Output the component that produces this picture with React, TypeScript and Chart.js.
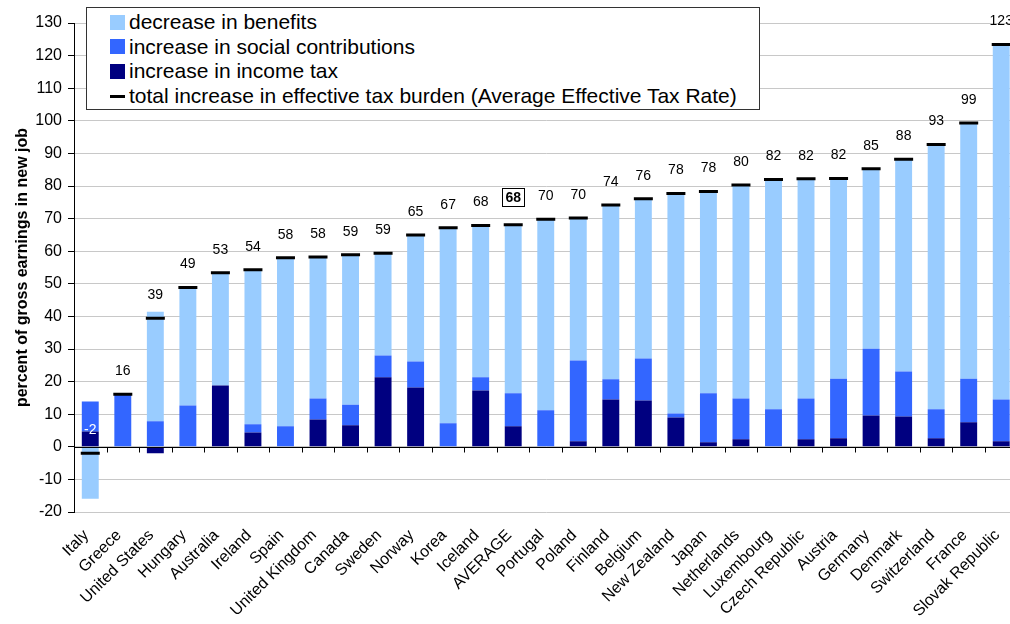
import React, { useEffect, useRef } from "react";
import { Chart, registerables } from "chart.js";

Chart.register(...registerables);

const categories = [
  "Italy", "Greece", "United States", "Hungary", "Australia", "Ireland", "Spain",
  "United Kingdom", "Canada", "Sweden", "Norway", "Korea", "Iceland", "AVERAGE",
  "Portugal", "Poland", "Finland", "Belgium", "New Zealand", "Japan", "Netherlands",
  "Luxembourg", "Czech Republic", "Austria", "Germany", "Denmark", "Switzerland",
  "France", "Slovak Republic",
];

const incomeTax = [
  4.7, 0, -2.0, 0, 18.8, 4.4, 0, 8.4, 6.6, 21.3, 18.2, 0, 17.3, 6.3, 0, 1.7,
  14.5, 14.2, 9.0, 1.4, 2.3, 0, 2.3, 2.6, 9.6, 9.3, 2.6, 7.5, 1.7,
];

const socialContributions = [
  9.2, 16.1, 7.8, 12.7, 0, 2.5, 6.3, 6.4, 6.3, 6.7, 8.0, 7.2, 4.0, 10.1, 11.2,
  24.8, 6.2, 12.9, 1.2, 15.0, 12.5, 11.5, 12.5, 18.3, 20.5, 13.8, 8.9, 13.4, 12.8,
];

const benefitsDecrease = [
  -15.9, 0, 33.6, 36.2, 34.6, 47.4, 51.7, 43.4, 46.0, 31.4, 38.8, 60.0, 46.6,
  51.7, 58.6, 43.7, 53.5, 49.0, 67.5, 61.9, 65.5, 70.5, 67.4, 61.4, 55.2, 65.1,
  81.2, 78.4, 108.9,
];

const totalBurden = [
  -2.0, 16.1, 39.4, 48.9, 53.4, 54.3, 58.0, 58.2, 58.9, 59.4, 65.0, 67.2, 67.9,
  68.1, 69.8, 70.2, 74.2, 76.1, 77.7, 78.3, 80.3, 82.0, 82.2, 82.3, 85.3, 88.2,
  92.7, 99.3, 123.4,
];

const legendLabels = [
  "decrease in benefits",
  "increase in social contributions",
  "increase in income tax",
  "total increase in effective tax burden (Average Effective Tax Rate)",
];

const yAxisTitle = "percent of gross earnings in new job";
const highlightCategory = "AVERAGE";

const COLOR_BENEFITS = "#99CCFF";
const COLOR_SOCIAL = "#3366FF";
const COLOR_INCOME = "#000080";
const FONT = '"Liberation Sans", Arial, sans-serif';

export default function App() {
  const canvasRef = useRef<HTMLCanvasElement | null>(null);

  useEffect(() => {
    if (!canvasRef.current) return;

    const overlayPlugin = {
      id: "overlay",
      afterDatasetsDraw(chart: any) {
        const { ctx, chartArea } = chart;
        const x = chart.scales.x;
        const y = chart.scales.y;
        const y0 = Math.round(y.getPixelForValue(0)) + 0.5;
        ctx.save();
        ctx.strokeStyle = "#000";
        ctx.lineWidth = 1.2;
        ctx.beginPath();
        ctx.moveTo(chartArea.left, y0);
        ctx.lineTo(chartArea.right, y0);
        ctx.stroke();
        const step = x.getPixelForValue(1) - x.getPixelForValue(0);
        ctx.lineWidth = 1;
        for (let i = 0; i <= categories.length; i++) {
          const px = Math.round(x.getPixelForValue(0) - step / 2 + i * step) + 0.5;
          ctx.beginPath();
          ctx.moveTo(px, y0);
          ctx.lineTo(px, y0 + 5);
          ctx.stroke();
        }
        ctx.textAlign = "center";
        ctx.textBaseline = "middle";
        totalBurden.forEach((v, i) => {
          const px = x.getPixelForValue(i);
          const py = y.getPixelForValue(v);
          const text = String(Math.round(v));
          if (categories[i] === highlightCategory) {
            ctx.font = `bold 14px ${FONT}`;
            const cy = py - 28;
            ctx.fillStyle = "#fff";
            ctx.fillRect(px - 11, cy - 9, 22, 18);
            ctx.strokeStyle = "#000";
            ctx.lineWidth = 1;
            ctx.strokeRect(Math.round(px - 11) + 0.5, Math.round(cy - 9) + 0.5, 22, 18);
            ctx.fillStyle = "#000";
            ctx.fillText(text, px, cy + 1);
          } else {
            ctx.font = `14px ${FONT}`;
            ctx.fillStyle = v < 0 ? "#fff" : "#000";
            ctx.fillText(text, px, py - 23);
          }
        });
        ctx.restore();
      },
    };

    const chart = new Chart(canvasRef.current, {
      type: "bar",
      data: {
        labels: categories,
        datasets: [
          {
            type: "line" as const,
            label: legendLabels[3],
            data: totalBurden,
            showLine: false,
            pointStyle: "line",
            pointRadius: 9.5,
            pointHoverRadius: 9.5,
            pointBorderWidth: 3,
            borderColor: "#000",
            backgroundColor: "#000",
            stack: "total",
            order: 0,
          } as any,
          {
            label: legendLabels[2],
            data: incomeTax,
            backgroundColor: COLOR_INCOME,
            stack: "s",
            order: 1,
            barPercentage: 0.52,
            categoryPercentage: 1,
          },
          {
            label: legendLabels[1],
            data: socialContributions,
            backgroundColor: COLOR_SOCIAL,
            stack: "s",
            order: 1,
            barPercentage: 0.52,
            categoryPercentage: 1,
          },
          {
            label: legendLabels[0],
            data: benefitsDecrease,
            backgroundColor: COLOR_BENEFITS,
            stack: "s",
            order: 1,
            barPercentage: 0.52,
            categoryPercentage: 1,
          },
        ],
      },
      options: {
        responsive: false,
        animation: false,
        devicePixelRatio: 1,
        layout: { padding: { top: 23, right: 11.5, left: 0, bottom: 0 } },
        plugins: {
          legend: { display: false },
          tooltip: { enabled: false },
        },
        scales: {
          x: {
            stacked: true,
            grid: { display: false, drawTicks: false },
            border: { display: false },
            ticks: {
              autoSkip: false,
              maxRotation: 45,
              minRotation: 45,
              padding: 14,
              labelOffset: -4,
              color: "#000",
              font: { family: FONT, size: 16 },
            },
            afterFit(scale: any) {
              scale.height = 112;
            },
          },
          y: {
            stacked: true,
            min: -20,
            max: 130,
            ticks: {
              stepSize: 10,
              padding: 6,
              color: "#000",
              font: { family: FONT, size: 16 },
            },
            grid: {
              color: "#c8c8c8",
              tickColor: "#000",
              tickLength: 6,
              lineWidth: 1,
            },
            border: { display: true, color: "#000", width: 1 },
            title: {
              display: true,
              text: yAxisTitle,
              color: "#000",
              font: { family: FONT, size: 16, weight: "bold" },
              padding: { top: 13, bottom: 0 },
            },
            afterFit(scale: any) {
              scale.width = 74;
            },
          },
        },
      },
      plugins: [overlayPlugin],
    });

    return () => chart.destroy();
  }, []);

  const swatchColors = [COLOR_BENEFITS, COLOR_SOCIAL, COLOR_INCOME, null];

  return (
    <div
      style={{
        position: "absolute",
        left: 0,
        top: 0,
        width: 1010,
        height: 624,
        overflow: "hidden",
        background: "#fff",
      }}
    >
      <canvas ref={canvasRef} width={1030} height={624} style={{ display: "block" }} />
      <div
        style={{
          position: "absolute",
          left: 86,
          top: 7,
          width: 672,
          height: 101,
          border: "1px solid #333",
          background: "#fff",
          fontFamily: FONT,
          fontSize: 21,
          color: "#000",
        }}
      >
        {legendLabels.map((lbl, i) => (
          <div
            key={lbl}
            style={{
              position: "absolute",
              left: 23,
              top: 2 + i * 24.7,
              height: 24,
              display: "flex",
              alignItems: "center",
              whiteSpace: "nowrap",
              lineHeight: "24px",
            }}
          >
            {swatchColors[i] ? (
              <span
                style={{
                  display: "inline-block",
                  width: 15,
                  height: 15,
                  background: swatchColors[i] as string,
                  marginRight: 4,
                }}
              />
            ) : (
              <span
                style={{
                  display: "inline-block",
                  width: 15,
                  height: 3,
                  background: "#000",
                  marginRight: 4,
                }}
              />
            )}
            <span>{lbl}</span>
          </div>
        ))}
      </div>
    </div>
  );
}
